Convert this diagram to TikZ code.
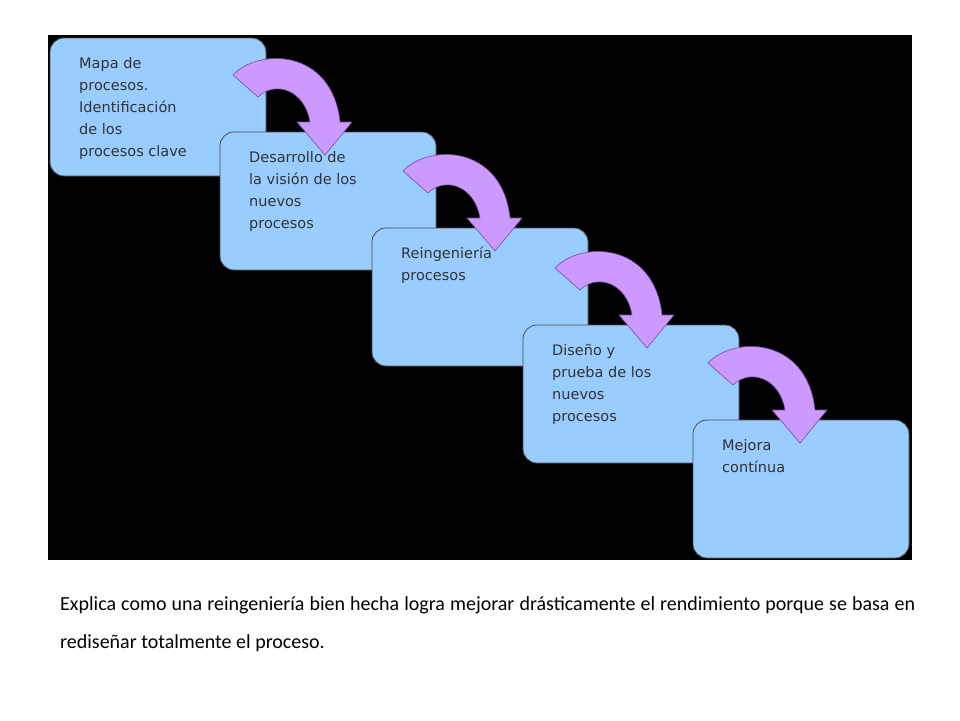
\documentclass[tikz,border=0pt]{standalone}
\usepackage{fontspec}
\setmainfont{Carlito}
\newfontfamily\boxfont{DejaVu Sans}
\definecolor{boxblue}{HTML}{99CCFF}
\definecolor{arrowlilac}{HTML}{CC99FF}
\definecolor{arrowedge}{HTML}{7A4FA0}
\begin{document}
\begin{tikzpicture}[x=1pt,y=-1pt,
    stepbox/.style={draw=black!70, fill=boxblue, rounded corners=14pt, line width=0.8pt},
    steptext/.style={anchor=north west, align=left, font=\boxfont\fontsize{14.5}{22}\selectfont, text=black!80, inner sep=0pt},
    curvearrow/.style={draw=arrowedge, fill=arrowlilac, line width=0.6pt}]
    \useasboundingbox (0,0) rectangle (960,720);
    \fill[black] (48,35) rectangle (912,560);

    % Boxes and curved arrows
    \foreach \x/\y/\t [count=\i] in {50/38/{Mapa de\\procesos.\\Identificación\\de los\\procesos clave},
        220/132/{Desarrollo de\\la visión de los\\nuevos\\procesos},
        372/228/{Reingeniería\\procesos},
        523/325/{Diseño y\\prueba de los\\nuevos\\procesos},
        693/420/{Mejora\\contínua}} {
        \draw[stepbox] (\x,\y) rectangle ++(216,138);
        \node[steptext] (s\i) at (\x+29,\y+19) {\t};
    }
    \foreach \x/\y in {265/132, 435/228, 587/325, 740/420} {
        \begin{scope}[shift={(\x-265,\y-132)}]
            \draw[curvearrow] (233,75) .. controls (258,48) and (332,48) .. (340,122)
                -- (352,122) -- (325,155) -- (297,122) -- (310,122)
                .. controls (305,90) and (275,80) .. (258,97) -- cycle;
        \end{scope}
    }

    % Caption
    \node[anchor=north west, text width=855pt, align=justify, inner sep=0pt,
          font=\fontsize{20}{38}\selectfont] (caption) at (60,596)
        {Explica como una reingeniería bien hecha logra mejorar drásticamente el rendimiento porque se basa en rediseñar totalmente el proceso.};
\end{tikzpicture}
\end{document}
